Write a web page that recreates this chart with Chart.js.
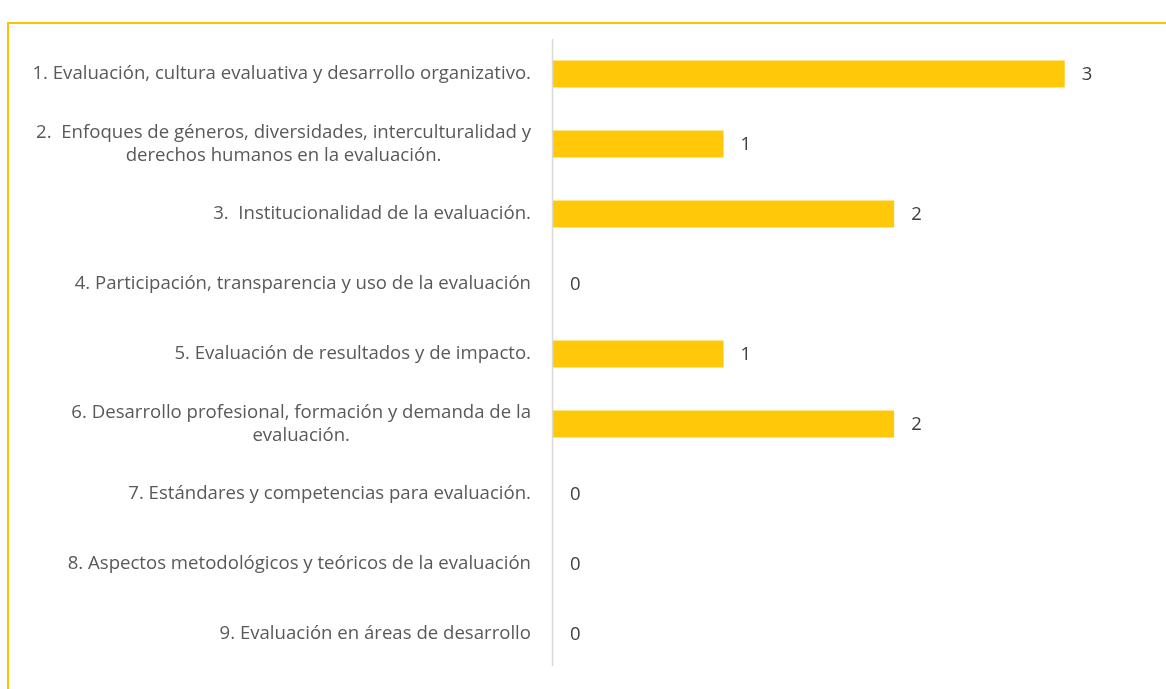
<!DOCTYPE html>
<html>
<head>
<meta charset="utf-8">
<script src="https://cdn.jsdelivr.net/npm/chart.js@4/dist/chart.umd.min.js"></script>
<style>
  html, body { margin: 0; padding: 0; background: #fff; }
  #wrap { position: relative; width: 1166px; height: 689px; overflow: hidden; }
  #frame { position: absolute; left: 7px; top: 22px; width: 1200px; height: 700px;
           border-top: 2px solid #FFC000; border-left: 2px solid #FFC000; }
  #myChart { position: absolute; left: 0; top: 0; }
</style>
</head>
<body>
<div id="wrap">
  <div id="frame"></div>
  <canvas id="myChart" width="1166" height="689"></canvas>
</div>
<script>
// categorias (lineas de texto de cada etiqueta)
var categorias = [
    ["1. Evaluación, cultura evaluativa y desarrollo organizativo."],
    ["2.  Enfoques de géneros, diversidades, interculturalidad y", "derechos humanos en la evaluación."],
    ["3.  Institucionalidad de la evaluación."],
    ["4. Participación, transparencia y uso de la evaluación"],
    ["5. Evaluación de resultados y de impacto."],
    ["6. Desarrollo profesional, formación y demanda de la", "evaluación."],
    ["7. Estándares y competencias para evaluación."],
    ["8. Aspectos metodológicos y teóricos de la evaluación"],
    ["9. Evaluación en áreas de desarrollo"]
];
var valores = [3, 1, 2, 0, 1, 2, 0, 0, 0];

var labelFont = '18.6px "Open Sans", sans-serif';

// etiquetas del eje y valores de las barras
var etiquetasPlugin = {
    id: 'etiquetas',
    afterDraw: function (chart) {
        var ctx = chart.ctx;
        var area = chart.chartArea;
        var yScale = chart.scales.y;
        var meta = chart.getDatasetMeta(0);
        ctx.save();

        // linea del eje
        ctx.strokeStyle = '#D9D9D9';
        ctx.lineWidth = 1.5;
        ctx.beginPath();
        ctx.moveTo(area.left - 0.5, area.top);
        ctx.lineTo(area.left - 0.5, area.bottom - 3);
        ctx.stroke();

        // categorias
        ctx.font = labelFont;
        ctx.fillStyle = '#595959';
        ctx.textBaseline = 'middle';
        ctx.textAlign = 'center';
        var right = area.left - 22;
        var lineH = 23;
        categorias.forEach(function (lines, i) {
            var yc = yScale.getPixelForValue(i);
            var w = 0;
            lines.forEach(function (l) { w = Math.max(w, ctx.measureText(l).width); });
            var cx = right - w / 2;
            var y0 = yc - (lines.length - 1) * lineH / 2;
            lines.forEach(function (l, j) {
                ctx.fillText(l, cx, y0 + j * lineH);
            });
        });

        // valores
        ctx.font = '18.5px "Open Sans", sans-serif';
        ctx.fillStyle = '#404040';
        ctx.textAlign = 'left';
        meta.data.forEach(function (bar, i) {
            ctx.fillText(String(valores[i]), bar.x + 17, bar.y + 1);
        });
        ctx.restore();
    }
};

var ctx = document.getElementById('myChart').getContext('2d');
var myChart = new Chart(ctx, {
    type: 'bar',
    data: {
        labels: categorias.map(function (c) { return c.join(' '); }),
        datasets: [{
            data: valores,
            backgroundColor: '#FFC90A',
            borderWidth: 0,
            barPercentage: 0.386,
            categoryPercentage: 1
        }]
    },
    options: {
        indexAxis: 'y',
        responsive: false,
        animation: false,
        layout: { padding: { left: 553, top: 39, bottom: 20, right: 16 } },
        plugins: {
            legend: { display: false },
            tooltip: { enabled: false }
        },
        scales: {
            x: { display: false, min: 0, max: 3.5 },
            y: { display: false }
        }
    },
    plugins: [etiquetasPlugin]
});
</script>
</body>
</html>
